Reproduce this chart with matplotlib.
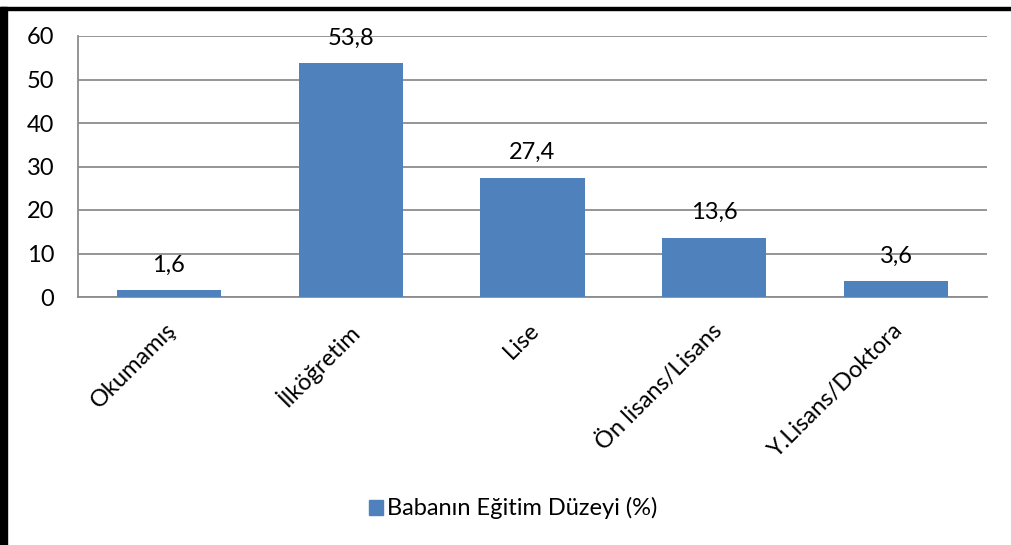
import matplotlib.pyplot as plt
from matplotlib.patches import Rectangle
from matplotlib.transforms import ScaledTranslation

categories = ['Okumamış', 'İlköğretim', 'Lise', 'Ön lisans/Lisans', 'Y.Lisans/Doktora']
values = [1.6, 53.8, 27.4, 13.6, 3.6]
value_labels = ['1,6', '53,8', '27,4', '13,6', '3,6']
yticks = [0, 10, 20, 30, 40, 50, 60]
series_name = 'Babanın Eğitim Düzeyi (%)'

plt.rcParams['font.family'] = ['Lato', 'DejaVu Sans']
bar_color = '#4f81bd'
grid_color = '#8c8c8c'
fs = 17

fig = plt.figure(figsize=(10.11, 5.45), dpi=100)
ax = fig.add_axes([78 / 1011, 1 - 297 / 545, (987 - 78) / 1011, (297 - 36) / 545])

x = range(len(categories))
ax.bar(x, values, width=0.573, color=bar_color, zorder=3)
for xi, v, lab in zip(x, values, value_labels):
    ax.annotate(lab, (xi, v), xytext=(0, 18), textcoords='offset points',
                ha='center', va='center', fontsize=fs, color='black', zorder=4)

ax.set_xlim(-0.5, len(categories) - 0.5)
ax.set_ylim(0, 60)
ax.set_yticks(yticks)
ax.set_yticklabels([str(t) for t in yticks], fontsize=fs)
ax.set_xticks(list(x))
ax.set_xticklabels(categories, rotation=45, ha='right', va='top', rotation_mode='anchor', fontsize=fs)
ax.tick_params(axis='y', length=0, pad=17)
ax.tick_params(axis='x', length=0, pad=16)
shift = ScaledTranslation(-4 / 100, 0, fig.dpi_scale_trans)
for t in ax.get_xticklabels():
    t.set_transform(t.get_transform() + shift)
ax.yaxis.grid(True, color=grid_color, linewidth=1.3, zorder=0)
for s in ['top', 'right']:
    ax.spines[s].set_visible(False)
for s in ['left', 'bottom']:
    ax.spines[s].set_color(grid_color)
    ax.spines[s].set_linewidth(1.3)

# legend
fig.patches.append(Rectangle((369 / 1011, 1 - 515 / 545), 14 / 1011, 15 / 545,
                             transform=fig.transFigure, color=bar_color))
fig.text(387 / 1011, 1 - 508 / 545, series_name, fontsize=fs, va='center', ha='left')

# outer frame (left and top black border)
fig.patches.append(Rectangle((0, 0), 7 / 1011, 1 - 7 / 545, transform=fig.transFigure, color='black'))
fig.patches.append(Rectangle((0, 1 - 10 / 545), 1, 3 / 545, transform=fig.transFigure, color='black'))

fig.savefig('out.png', dpi=100)
